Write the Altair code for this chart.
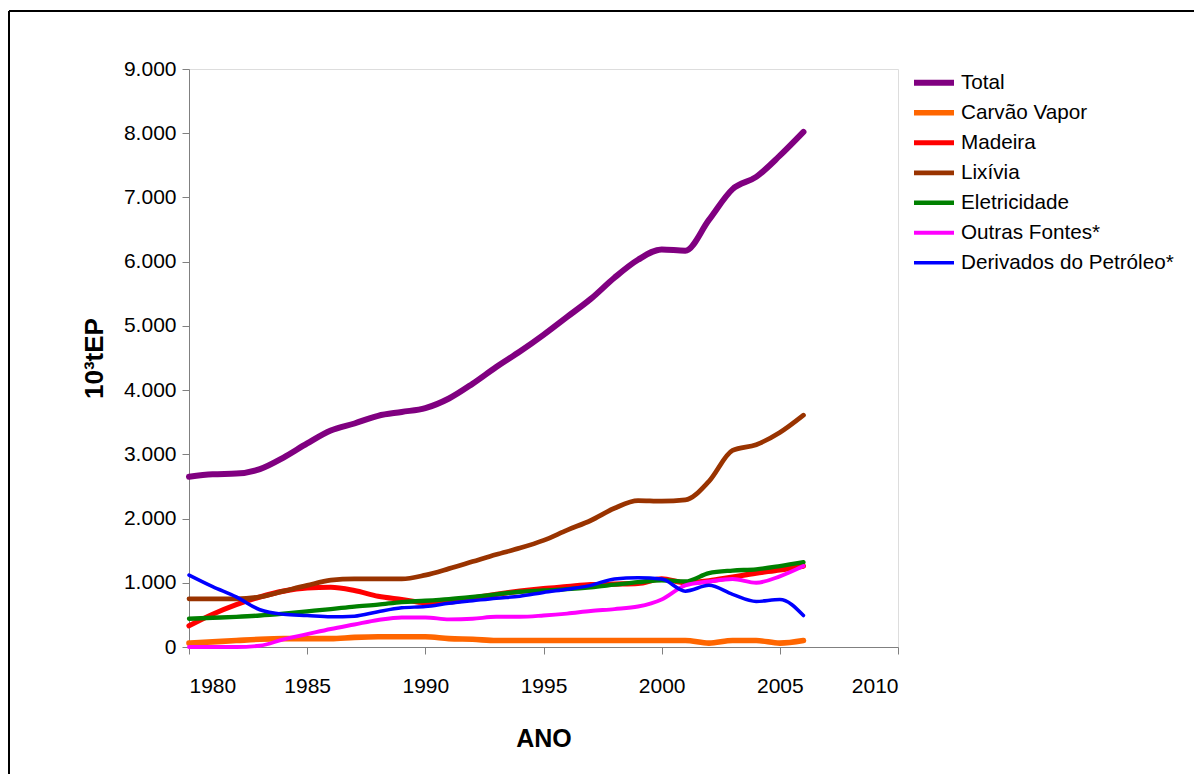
import altair as alt
import pandas as pd

years = list(range(1980, 2007))

total = [2650, 2690, 2700, 2770, 2950, 3170, 3370, 3480, 3600, 3660, 3720, 3870, 4100, 4360,
         4600, 4860, 5140, 5420, 5750, 6030, 6190, 6170, 6650, 7130, 7320, 7650, 8020]
carvao = [60, 80, 100, 120, 130, 130, 130, 150, 160, 160, 160, 130, 120, 100,
          100, 100, 100, 100, 100, 100, 100, 100, 60, 100, 100, 60, 100]
madeira = [330, 510, 660, 780, 870, 920, 930, 880, 790, 740, 690, 700, 760, 820,
           870, 910, 940, 970, 980, 990, 1060, 1000, 1030, 1090, 1150, 1200, 1260]
lixivia = [750, 750, 750, 780, 870, 960, 1040, 1060, 1060, 1060, 1120, 1220, 1330, 1440,
           1540, 1660, 1820, 1970, 2160, 2280, 2270, 2290, 2580, 3060, 3150, 3340, 3610]
eletricidade = [440, 455, 470, 490, 520, 555, 590, 630, 660, 700, 720, 745, 780, 820,
                860, 880, 900, 930, 970, 1010, 1040, 1020, 1150, 1190, 1210, 1260, 1320]
outras = [0, 0, 0, 20, 120, 200, 280, 350, 420, 460, 460, 430, 440, 470,
          470, 490, 520, 560, 590, 630, 740, 960, 1020, 1060, 1000, 1100, 1260]
derivados = [1120, 940, 780, 580, 510, 490, 470, 480, 550, 610, 630, 680, 720, 760,
             790, 850, 900, 960, 1060, 1080, 1060, 870, 960, 820, 710, 740, 490]

series_names = ["Total", "Carvão Vapor", "Madeira", "Lixívia", "Eletricidade",
                "Outras Fontes*", "Derivados do Petróleo*"]
series_values = [total, carvao, madeira, lixivia, eletricidade, outras, derivados]
colors = ["#800080", "#FF6600", "#FF0000", "#993300", "#008000", "#FF00FF", "#0000FF"]
widths = [6, 3.5, 6.5, 6, 4, 3.5, 4]

x_ticks = [1980, 1985, 1990, 1995, 2000, 2005, 2010]
y_ticks = [0, 1000, 2000, 3000, 4000, 5000, 6000, 7000, 8000, 9000]

rows = []
for name, vals in zip(series_names, series_values):
    for yr, v in zip(years, vals):
        rows.append({"ano": yr, "valor": v, "serie": name})
df = pd.DataFrame(rows)

FONT = "Liberation Sans"

legend_cfg = dict(title=None, orient="none", legendX=722, legendY=-1,
                  symbolType="stroke", symbolSize=1600,
                  labelFontSize=20.7, labelFont=FONT, labelColor="#000000",
                  labelOffset=4, rowPadding=0, clipHeight=29.5, labelLimit=0)

lines = alt.Chart(df).mark_line(strokeCap="round", strokeJoin="round",
                                interpolate="monotone").encode(
    x=alt.X("ano:Q", scale=alt.Scale(domain=[1980, 2010], nice=False),
            axis=alt.Axis(values=x_ticks, format="d", title="ANO", grid=False,
                          domainColor="#808080", tickColor="#808080", tickSize=7,
                          labelFontSize=21, labelColor="#000000", labelPadding=21,
                          labelFont=FONT, titleFont=FONT, titleFontSize=25,
                          titleFontWeight="bold", titleColor="#000000", titlePadding=30)),
    y=alt.Y("valor:Q", scale=alt.Scale(domain=[0, 9000], nice=False),
            axis=alt.Axis(values=y_ticks, title="10³tEP", grid=False,
                          labelExpr="replace(format(datum.value, ','), ',', '.')",
                          domainColor="#808080", tickColor="#808080", tickSize=7,
                          labelFontSize=21, labelColor="#000000", labelPadding=6,
                          labelFont=FONT, titleFont=FONT, titleFontSize=26,
                          titleFontWeight="bold", titleColor="#000000", titlePadding=16)),
    color=alt.Color("serie:N", scale=alt.Scale(domain=series_names, range=colors),
                    sort=series_names, legend=alt.Legend(**legend_cfg)),
    strokeWidth=alt.StrokeWidth("serie:N", scale=alt.Scale(domain=series_names, range=widths),
                                sort=series_names, legend=alt.Legend(**legend_cfg)),
    order=alt.Order("ano:Q"),
)

frame_df = pd.DataFrame({"k": [0]})
frame_left = alt.Chart(frame_df).mark_rule(color="#000000", strokeWidth=2).encode(
    x=alt.value(-180), y=alt.value(-58), y2=alt.value(800))
frame_top = alt.Chart(frame_df).mark_rule(color="#000000", strokeWidth=2).encode(
    x=alt.value(-180), x2=alt.value(1100), y=alt.value(-58))

chart = alt.layer(frame_left, frame_top, lines).properties(
    width=709, height=578,
    autosize=alt.AutoSizeParams(type="none"),
    padding={"left": 181, "top": 61, "right": 296, "bottom": 127},
).configure_view(stroke=None).configure(background="white")

chart.save("out.html", embed_options={"renderer": "svg", "actions": False})
